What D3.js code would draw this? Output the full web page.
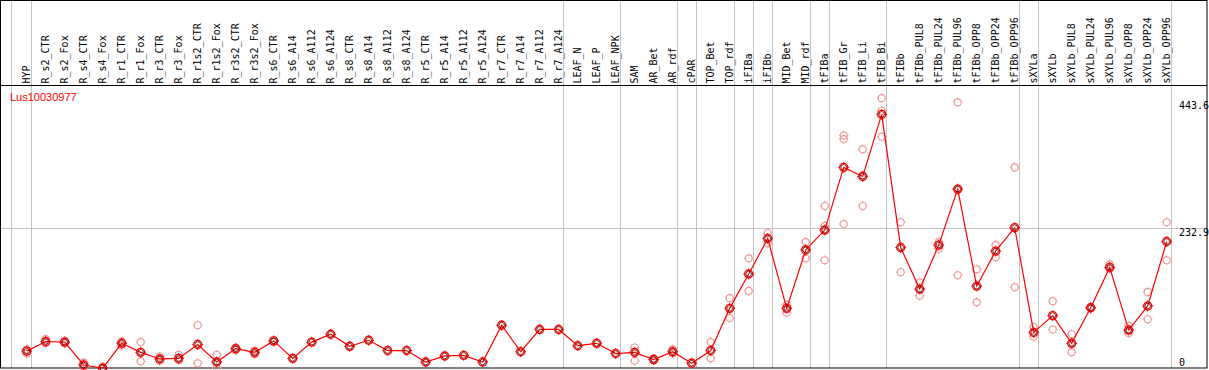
<!DOCTYPE html>
<html>
<head>
<meta charset="utf-8">
<title>Lus10030977</title>
<style>
    body { margin: 0; background: #fff; }
    svg { display: block; }
    .lbl { font: 10px "DejaVu Sans Mono", monospace; fill: #000; }
</style>
</head>
<body>
<svg width="1209" height="370"></svg>
<script src="https://d3js.org/d3.v7.min.js"></script>
<script>
    var geneName = "Lus10030977";

    var categories = ["HYP", "R_s2_CTR", "R_s2_Fox", "R_s4_CTR", "R_s4_Fox", "R_r1_CTR", "R_r1_Fox",
        "R_r3_CTR", "R_r3_Fox", "R_r1s2_CTR", "R_r1s2_Fox", "R_r3s2_CTR", "R_r3s2_Fox", "R_s6_CTR",
        "R_s6_A14", "R_s6_A112", "R_s6_A124", "R_s8_CTR", "R_s8_A14", "R_s8_A112", "R_s8_A124",
        "R_r5_CTR", "R_r5_A14", "R_r5_A112", "R_r5_A124", "R_r7_CTR", "R_r7_A14", "R_r7_A112", "R_r7_A124",
        "LEAF_N", "LEAF_P", "LEAF_NPK", "SAM", "AR_Bet", "AR_rdf", "cPAR", "TOP_Bet", "TOP_rdf",
        "iFIBa", "iFIBb", "MID_Bet", "MID_rdf", "tFIBa", "tFIB_Gr", "tFIB_Li", "tFIB_Bi",
        "tFIBb", "tFIBb_PUL8", "tFIBb_PUL24", "tFIBb_PUL96", "tFIBb_OPP8", "tFIBb_OPP24", "tFIBb_OPP96",
        "sXYLa", "sXYLb", "sXYLb_PUL8", "sXYLb_PUL24", "sXYLb_PUL96", "sXYLb_OPP8", "sXYLb_OPP24", "sXYLb_OPP96"];

    // mean expression per sample
    var means = [28, 44, 43, 5, 0, 41, 26,
        15, 16, 39, 10, 32, 26, 45,
        16, 43, 56, 36, 46, 29, 29,
        10, 20, 21, 10, 71, 27, 64, 64,
        37, 41, 24, 26, 14, 27, 8, 29, 99,
        156, 215, 99, 196, 229, 333, 318, 421,
        200, 131, 204, 297, 136, 194, 233,
        59, 87, 41, 100, 167, 63, 103, 210];

    // replicate values (the pale circles)
    var replicates = [[24, 31], [48, 41], [41, 45], [9, 2], [1], [44, 37], [43, 11],
        [19, 12], [22, 13], [71, 8], [22, 0], [34, 30], [29, 23], [46, 43],
        [], [], [], [], [], [], [],
        [], [], [], [], [], [], [], [],
        [], [], [], [34, 12], [16, 13], [31, 24], [], [43, 16], [116, 83],
        [182, 128], [224, 207], [105, 92], [209, 182], [269, 236, 179], [386, 380, 239], [363, 320, 269], [448, 427, 384],
        [242, 159], [142, 120], [209, 198], [441, 297, 154], [164, 109], [204, 184], [333, 134],
        [68, 52], [111, 64], [56, 26], [101, 99], [172, 165], [70, 58], [126, 81], [242, 179]];

    // last sample of each tissue group (vertical separators)
    var groupEnds = ["HYP", "R_r7_A124", "LEAF_NPK", "AR_rdf", "cPAR", "TOP_rdf", "iFIBa", "iFIBb",
        "MID_rdf", "tFIBa", "tFIB_Bi", "tFIBb_OPP96", "sXYLa", "sXYLb_OPP96"];

    var yTicks = [443.6, 232.9, 0];
    var gridValues = [232.9];

    var svg = d3.select("svg"),
        width = +svg.attr("width"),
        height = +svg.attr("height");
    var right = 1207, bottom = 368, headerY = 85;

    var x = d3.scalePoint()
        .domain(categories)
        .range([26.7, 1166.7]);
    var y = d3.scaleLinear()
        .domain([0, 443.6])
        .range([bottom, 100.8]);

    // separators
    var sepX = [x(categories[0]) - 16].concat(groupEnds.map(function(c) { return x(c) + 4; }));
    svg.selectAll("line.sep")
        .data(sepX)
        .enter().append("line")
        .attr("class", "sep")
        .attr("x1", function(d) { return Math.round(d) + 0.5; })
        .attr("x2", function(d) { return Math.round(d) + 0.5; })
        .attr("y1", 0)
        .attr("y2", bottom)
        .attr("stroke", "#c4c4c4");

    svg.selectAll("line.grid")
        .data(gridValues)
        .enter().append("line")
        .attr("class", "grid")
        .attr("x1", 1)
        .attr("x2", right)
        .attr("y1", function(d) { return Math.round(y(d)) + 0.5; })
        .attr("y2", function(d) { return Math.round(y(d)) + 0.5; })
        .attr("stroke", "#c4c4c4");

    // frame + header line
    svg.append("rect")
        .attr("x", 0.5).attr("y", 0.5)
        .attr("width", right - 0.5).attr("height", bottom - 0.5)
        .attr("fill", "none").attr("stroke", "#000");
    svg.append("line")
        .attr("x1", 0).attr("x2", right)
        .attr("y1", headerY + 0.5).attr("y2", headerY + 0.5)
        .attr("stroke", "#000");

    // sample names
    svg.selectAll("text.cat")
        .data(categories)
        .enter().append("text")
        .attr("class", "lbl cat")
        .attr("transform", function(d) { return "translate(" + (x(d) + 3) + "," + 83.5 + ") rotate(-90)"; })
        .text(function(d) { return d; });

    // right-hand values
    svg.selectAll("text.tick")
        .data(yTicks)
        .enter().append("text")
        .attr("class", "lbl tick")
        .attr("x", 1179)
        .attr("y", function(d) { return Math.min(y(d) + 8.5, 366); })
        .text(function(d) { return d === 0 ? "0" : d3.format(".1f")(d); });

    svg.append("text")
        .attr("x", 10)
        .attr("y", 100.5)
        .attr("fill", "#f00")
        .style("font", "11px 'Liberation Sans', Arial, sans-serif")
        .text(geneName);

    var ticks = function(r, t) {
        return "M0," + (-r) + "v" + (-t) + "M0," + r + "v" + t +
            "M" + (-r) + ",0h" + (-t) + "M" + r + ",0h" + t;
    };

    var plot = svg.append("g");

    // replicate circles
    var reps = [];
    replicates.forEach(function(vals, i) {
        vals.forEach(function(v) { reps.push({cat: categories[i], v: v}); });
    });
    var rep = plot.selectAll("g.rep")
        .data(reps)
        .enter().append("g")
        .attr("class", "rep")
        .attr("transform", function(d) { return "translate(" + x(d.cat) + "," + y(d.v) + ")"; });
    rep.append("circle")
        .attr("r", 3.5)
        .attr("fill", "none")
        .attr("stroke", "#f09a9a")
        .attr("stroke-width", 1.1);
    rep.append("path")
        .attr("d", ticks(3.5, 1.3))
        .attr("stroke", "#f09a9a");

    // mean line
    plot.append("path")
        .datum(means)
        .attr("fill", "none")
        .attr("stroke", "#f00")
        .attr("stroke-width", 1.2)
        .attr("d", d3.line()
            .x(function(d, i) { return x(categories[i]); })
            .y(function(d) { return y(d); }));

    var mean = plot.selectAll("g.mean")
        .data(means)
        .enter().append("g")
        .attr("class", "mean")
        .attr("transform", function(d, i) { return "translate(" + x(categories[i]) + "," + y(d) + ")"; });
    mean.append("circle")
        .attr("r", 4)
        .attr("fill", "none")
        .attr("stroke", "#f00")
        .attr("stroke-width", 1.4);
    mean.append("circle")
        .attr("r", 2.8)
        .attr("fill", "none")
        .attr("stroke", "#400")
        .attr("stroke-width", 0.8);
    mean.append("path")
        .attr("d", ticks(4, 1.4))
        .attr("stroke", "#f00");
</script>
</body>
</html>
